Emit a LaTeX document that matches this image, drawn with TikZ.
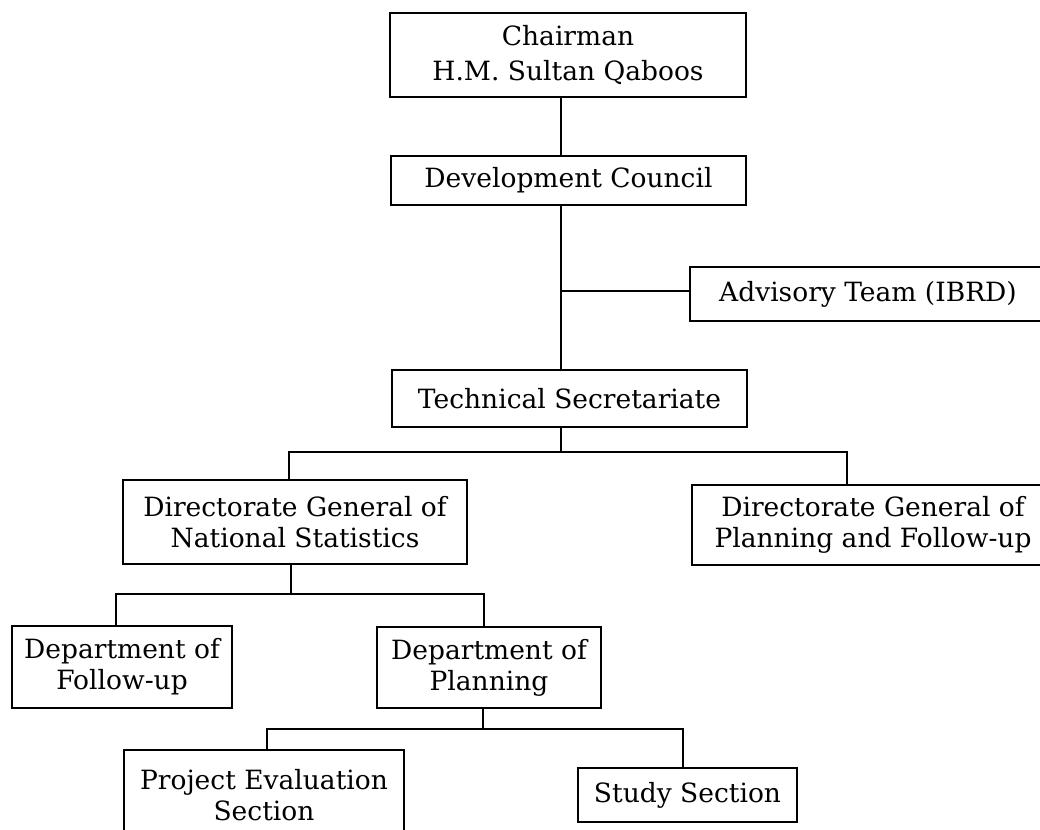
\documentclass[tikz,border=0pt]{standalone}
\usepackage{fontspec}
\setmainfont{DejaVu Serif}
\begin{document}
\begin{tikzpicture}[x=1pt,y=-1pt,
  box/.style={draw=black, line width=2pt, rectangle, inner sep=0pt, align=center,
    font=\fontsize{26.5}{31}\selectfont, text=black},
  link/.style={draw=black, line width=2pt}]
\path[use as bounding box] (0,0) rectangle (1040,829);
\clip (0,0) rectangle (1040,829);
\fill[white] (0,0) rectangle (1040,829);
% nodes
\node[box, minimum width=356pt, minimum height=84pt, font=\fontsize{26.5}{35}\selectfont] (chair) at (568,55) {Chairman\\H.M. Sultan Qaboos};
\node[box, minimum width=355pt, minimum height=49pt] (dc) at (568.5,180.5) {Development Council};
\node[box, minimum width=356pt, minimum height=54pt] (adv) at (868,294) {Advisory Team (IBRD)};
\node[box, minimum width=355pt, minimum height=57pt] (ts) at (569.5,398.5) {Technical Secretariate};
\node[box, minimum width=344pt, minimum height=84pt] (dgns) at (295,522) {Directorate General of\\National Statistics};
\node[box, minimum width=362pt, minimum height=80pt] (dgp) at (873,525) {Directorate General of\\Planning and Follow-up};
\node[box, minimum width=220pt, minimum height=82pt] (dfu) at (122,667) {Department of\\Follow-up};
\node[box, minimum width=224pt, minimum height=81pt] (dpl) at (489,667.5) {Department of\\Planning};
\node[box, minimum width=280pt, minimum height=90pt] (pes) at (264,795) {Project Evaluation\\Section};
\node[box, minimum width=219pt, minimum height=54pt] (study) at (687.5,795) {Study Section};
% junctions
\coordinate (j1) at (561,291);
\coordinate (j2) at (561,452);
\coordinate (a1) at (289,452);
\coordinate (a2) at (847,452);
\coordinate (j3) at (291,594);
\coordinate (b1) at (116,594);
\coordinate (b2) at (484,594);
\coordinate (j4) at (483,729);
\coordinate (c1) at (267,729);
\coordinate (c2) at (683,729);
% connectors
\draw[link] (chair.south -| j1) -- (dc.north -| j1);
\draw[link] (dc.south -| j1) -- (ts.north -| j1);
\draw[link] (j1) -- (j1 -| adv.west);
\draw[link] (ts.south -| j2) -- (j2);
\draw[link] (a1 |- dgns.north) -- (a1) -- (a2) -- (a2 |- dgp.north);
\draw[link] (dgns.south -| j3) -- (j3);
\draw[link] (b1 |- dfu.north) -- (b1) -- (b2) -- (b2 |- dpl.north);
\draw[link] (dpl.south -| j4) -- (j4);
\draw[link] (c1 |- pes.north) -- (c1) -- (c2) -- (c2 |- study.north);
\end{tikzpicture}
\end{document}
